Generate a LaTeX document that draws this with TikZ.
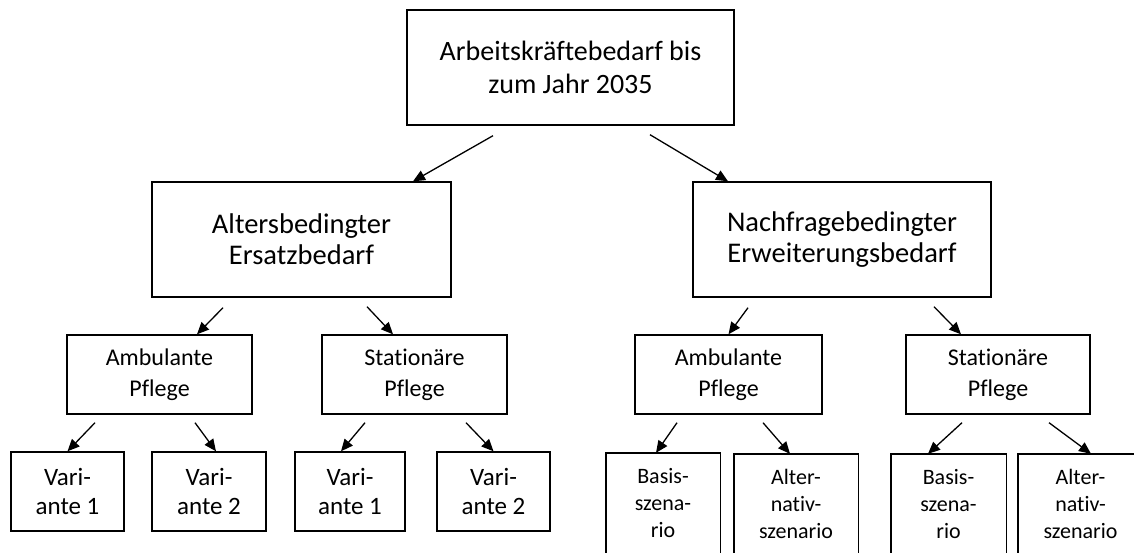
\documentclass[tikz,border=0pt]{standalone}
\usepackage{fontspec}
\setmainfont{Carlito}[Ligatures=NoCommon]
\usetikzlibrary{arrows.meta}

\begin{document}
\begin{tikzpicture}[x=1pt,y=-1pt,
    kasten/.style={draw,line width=1.4pt,align=center,inner sep=0pt},
    ebeneA/.style={kasten,font=\fontsize{28}{33}\selectfont,minimum height=115pt},
    ebeneAB/.style={kasten,font=\fontsize{28.5}{31}\selectfont,minimum height=115pt},
    ebeneB/.style={kasten,font=\fontsize{24}{31}\selectfont,minimum height=79pt},
    ebeneC/.style={kasten,font=\fontsize{25}{29}\selectfont,minimum height=79pt},
    ebeneD/.style={align=center,inner sep=0pt,font=\fontsize{22}{27}\selectfont,minimum height=100pt},
    rahmen/.style={line width=1.4pt},
    pfeil/.style={-{Triangle[length=12pt,width=10.5pt]},line width=1.3pt}]
    \useasboundingbox (0,0) rectangle (1134,552);
    \clip (0,0) rectangle (1134,552);
    % oberste Ebene
    \node[ebeneA,minimum width=327pt] (bedarf) at (570.5,67.5) {Arbeitskräftebedarf bis\\zum Jahr 2035};
    % zweite Ebene
    \node[ebeneAB,minimum width=299pt] (alter) at (301.5,239.5) {Altersbedingter\\Ersatzbedarf};
    \node[ebeneAB,minimum width=298pt] (nachfrage) at (842,239.5) {Nachfragebedingter\\Erweiterungsbedarf};
    % dritte Ebene
    \node[ebeneB,minimum width=185pt] (ambA) at (159.5,374.5) {Ambulante\\Pflege};
    \node[ebeneB,minimum width=185pt] (statA) at (414.5,374.5) {Stationäre\\Pflege};
    \node[ebeneB,minimum width=187pt] (ambN) at (728.5,374.5) {Ambulante\\Pflege};
    \node[ebeneB,minimum width=184pt] (statN) at (998,374.5) {Stationäre\\Pflege};
    % vierte Ebene, links
    \node[ebeneC,minimum width=113pt] (var1A) at (67.5,491.5) {Vari-\\ante 1};
    \node[ebeneC,minimum width=114pt] (var2A) at (209,491.5) {Vari-\\ante 2};
    \node[ebeneC,minimum width=110pt] (var1S) at (350,491.5) {Vari-\\ante 1};
    \node[ebeneC,minimum width=113pt] (var2S) at (493.5,491.5) {Vari-\\ante 2};
    % vierte Ebene, rechts (Kasten unten abgeschnitten)
    \node[ebeneD,minimum width=114pt] (basisA) at (663,503) {Basis-\\szena-\\rio};
    \node[ebeneD,minimum width=124pt] (altA) at (796,504) {Alter-\\nativ-\\szenario};
    \node[ebeneD,minimum width=115pt] (basisS) at (948.5,504) {Basis-\\szena-\\rio};
    \node[ebeneD,minimum width=125pt] (altS) at (1080.5,504) {Alter-\\nativ-\\szenario};
    \foreach \k in {basisA,altA,basisS,altS}
        \draw[rahmen] (\k.north west) rectangle ([yshift=-30pt]\k.south east);
    % Pfeile
    \draw[pfeil] ([shift={(-77.5pt,-10pt)}]bedarf.south) -- ([xshift=111.5pt]alter.north);
    \draw[pfeil] ([shift={(79.5pt,-9pt)}]bedarf.south) -- ([xshift=-114pt]nachfrage.north);
    \draw[pfeil] ([shift={(-78.5pt,-10pt)}]alter.south) -- ([xshift=37.5pt]ambA.north);
    \draw[pfeil] ([shift={(65.5pt,-9pt)}]alter.south) -- ([xshift=-21.5pt]statA.north);
    \draw[pfeil] ([shift={(-94pt,-10pt)}]nachfrage.south) -- (ambN.north);
    \draw[pfeil] ([shift={(92pt,-9pt)}]nachfrage.south) -- ([xshift=-37pt]statN.north);
    \draw[pfeil] ([shift={(-64.5pt,-8pt)}]ambA.south) -- (var1A.north);
    \draw[pfeil] ([shift={(35.5pt,-8pt)}]ambA.south) -- ([xshift=7pt]var2A.north);
    \draw[pfeil] ([shift={(-49.5pt,-8pt)}]statA.south) -- ([xshift=-9pt]var1S.north);
    \draw[pfeil] ([shift={(51.5pt,-8pt)}]statA.south) -- (var2S.north);
    \draw[pfeil] ([shift={(-51.5pt,-8pt)}]ambN.south) -- ([xshift=-7pt]basisA.north);
    \draw[pfeil] ([shift={(34.5pt,-8pt)}]ambN.south) -- ([xshift=-6pt]altA.north);
    \draw[pfeil] ([shift={(-36pt,-8pt)}]statN.south) -- ([xshift=-20.5pt]basisS.north);
    \draw[pfeil] ([shift={(51pt,-8pt)}]statN.south) -- ([xshift=10.5pt]altS.north);
\end{tikzpicture}
\end{document}
